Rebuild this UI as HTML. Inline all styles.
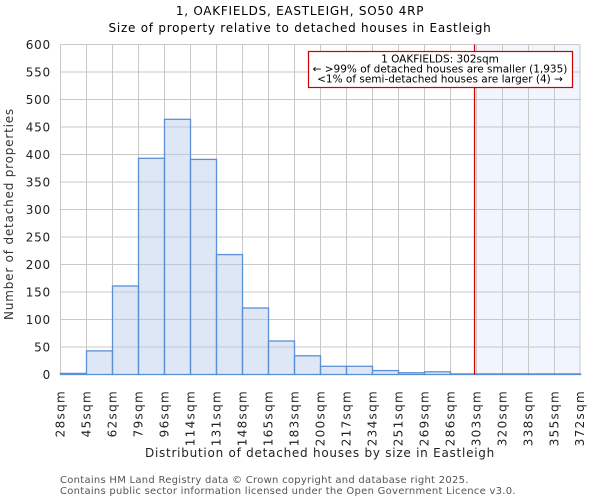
<!DOCTYPE html>
<html><head><meta charset="utf-8"><style>body{margin:0;background:#fff}svg{display:block}</style></head><body>
<svg width="600" height="500" xmlns="http://www.w3.org/2000/svg" font-family="DejaVu Sans, Liberation Sans, sans-serif">
<rect width="600" height="500" fill="#fff"/>
<text x="300" y="15" text-anchor="middle" font-size="12" letter-spacing="0.75">1, OAKFIELDS, EASTLEIGH, SO50 4RP</text>
<text x="300" y="32" text-anchor="middle" font-size="12" letter-spacing="0.75">Size of property relative to detached houses in Eastleigh</text>
<rect x="474.5" y="44.5" width="105.5" height="330" fill="#eef3fc" opacity="0.8"/>
<g stroke="#c8c8c8" stroke-width="1">
<line x1="60.5" x2="580" y1="44.5" y2="44.5"/><line x1="60.5" x2="580" y1="72" y2="72"/><line x1="60.5" x2="580" y1="99.5" y2="99.5"/><line x1="60.5" x2="580" y1="127" y2="127"/><line x1="60.5" x2="580" y1="154.5" y2="154.5"/><line x1="60.5" x2="580" y1="182" y2="182"/><line x1="60.5" x2="580" y1="209.5" y2="209.5"/><line x1="60.5" x2="580" y1="237" y2="237"/><line x1="60.5" x2="580" y1="264.5" y2="264.5"/><line x1="60.5" x2="580" y1="292" y2="292"/><line x1="60.5" x2="580" y1="319.5" y2="319.5"/><line x1="60.5" x2="580" y1="347" y2="347"/><line x1="60.5" x2="580" y1="374.5" y2="374.5"/>
<line y1="44.5" y2="374.5" x1="60.5" x2="60.5"/><line y1="44.5" y2="374.5" x1="86.5" x2="86.5"/><line y1="44.5" y2="374.5" x1="112.5" x2="112.5"/><line y1="44.5" y2="374.5" x1="138.5" x2="138.5"/><line y1="44.5" y2="374.5" x1="164.5" x2="164.5"/><line y1="44.5" y2="374.5" x1="190.5" x2="190.5"/><line y1="44.5" y2="374.5" x1="216.5" x2="216.5"/><line y1="44.5" y2="374.5" x1="242.5" x2="242.5"/><line y1="44.5" y2="374.5" x1="268.5" x2="268.5"/><line y1="44.5" y2="374.5" x1="294.5" x2="294.5"/><line y1="44.5" y2="374.5" x1="320.5" x2="320.5"/><line y1="44.5" y2="374.5" x1="346.5" x2="346.5"/><line y1="44.5" y2="374.5" x1="372.5" x2="372.5"/><line y1="44.5" y2="374.5" x1="398.5" x2="398.5"/><line y1="44.5" y2="374.5" x1="424.5" x2="424.5"/><line y1="44.5" y2="374.5" x1="450.5" x2="450.5"/><line y1="44.5" y2="374.5" x1="476.5" x2="476.5"/><line y1="44.5" y2="374.5" x1="502.5" x2="502.5"/><line y1="44.5" y2="374.5" x1="528.5" x2="528.5"/><line y1="44.5" y2="374.5" x1="554.5" x2="554.5"/><line y1="44.5" y2="374.5" x1="580" x2="580"/>
</g>
<g fill="rgb(180,202,235)" fill-opacity="0.45" stroke="#5b8fd6" stroke-width="1.3">
<rect x="60.5" y="373.4" width="26" height="1.1"/>
<rect x="86.5" y="350.9" width="26" height="23.6"/>
<rect x="112.5" y="286" width="26" height="88.5"/>
<rect x="138.5" y="158.3" width="26" height="216.2"/>
<rect x="164.5" y="119.3" width="26" height="255.2"/>
<rect x="190.5" y="159.4" width="26" height="215.1"/>
<rect x="216.5" y="254.6" width="26" height="119.9"/>
<rect x="242.5" y="308" width="26" height="66.5"/>
<rect x="268.5" y="341" width="26" height="33.5"/>
<rect x="294.5" y="355.8" width="26" height="18.7"/>
<rect x="320.5" y="366.3" width="26" height="8.2"/>
<rect x="346.5" y="366.3" width="26" height="8.2"/>
<rect x="372.5" y="370.6" width="26" height="3.9"/>
<rect x="398.5" y="372.8" width="26" height="1.7"/>
<rect x="424.5" y="371.8" width="26" height="2.7"/>
<rect x="450.5" y="373.9" width="26" height="0.6"/>
<rect x="476.5" y="373.9" width="26" height="0.6"/>
<rect x="502.5" y="373.9" width="26" height="0.6"/>
<rect x="528.5" y="373.9" width="26" height="0.6"/>
<rect x="554.5" y="373.9" width="26" height="0.6"/>
</g>
<line x1="474.5" x2="474.5" y1="44.5" y2="374.5" stroke="#cc0000" stroke-width="1.2"/>
<rect x="308.5" y="51.5" width="264" height="36" fill="#fff" stroke="#cc0000" stroke-width="1.2"/>
<g font-size="10.5" text-anchor="middle"><text x="440" y="62.5">1 OAKFIELDS: 302sqm</text><text x="440" y="72.5">← &gt;99% of detached houses are smaller (1,935)</text><text x="440" y="82.5">&lt;1% of semi-detached houses are larger (4) →</text></g>
<g font-size="12" text-anchor="end" fill="#222" letter-spacing="0.8">
<text x="51" y="49">600</text><text x="51" y="76.5">550</text><text x="51" y="104">500</text><text x="51" y="131.5">450</text><text x="51" y="159">400</text><text x="51" y="186.5">350</text><text x="51" y="214">300</text><text x="51" y="241.5">250</text><text x="51" y="269">200</text><text x="51" y="296.5">150</text><text x="51" y="324">100</text><text x="51" y="351.5">50</text><text x="51" y="379">0</text>
</g>
<text transform="translate(13,214) rotate(-90)" text-anchor="middle" font-size="12" fill="#333" letter-spacing="0.8">Number of detached properties</text>
<g font-size="12" text-anchor="end" fill="#222" letter-spacing="1.3">
<text transform="translate(64.5,390) rotate(-90)">28sqm</text>
<text transform="translate(90.5,390) rotate(-90)">45sqm</text>
<text transform="translate(116.5,390) rotate(-90)">62sqm</text>
<text transform="translate(142.5,390) rotate(-90)">79sqm</text>
<text transform="translate(168.5,390) rotate(-90)">96sqm</text>
<text transform="translate(194.5,390) rotate(-90)">114sqm</text>
<text transform="translate(220.5,390) rotate(-90)">131sqm</text>
<text transform="translate(246.5,390) rotate(-90)">148sqm</text>
<text transform="translate(272.5,390) rotate(-90)">165sqm</text>
<text transform="translate(298.5,390) rotate(-90)">183sqm</text>
<text transform="translate(324.5,390) rotate(-90)">200sqm</text>
<text transform="translate(350.5,390) rotate(-90)">217sqm</text>
<text transform="translate(376.5,390) rotate(-90)">234sqm</text>
<text transform="translate(402.5,390) rotate(-90)">251sqm</text>
<text transform="translate(428.5,390) rotate(-90)">269sqm</text>
<text transform="translate(454.5,390) rotate(-90)">286sqm</text>
<text transform="translate(480.5,390) rotate(-90)">303sqm</text>
<text transform="translate(506.5,390) rotate(-90)">320sqm</text>
<text transform="translate(532.5,390) rotate(-90)">338sqm</text>
<text transform="translate(558.5,390) rotate(-90)">355sqm</text>
<text transform="translate(584,390) rotate(-90)">372sqm</text>
</g>
<text x="320" y="457" text-anchor="middle" font-size="12" fill="#222" letter-spacing="0.75">Distribution of detached houses by size in Eastleigh</text>
<g font-size="10" fill="#555" letter-spacing="0.27"><text x="60" y="483">Contains HM Land Registry data © Crown copyright and database right 2025.</text><text x="60" y="494">Contains public sector information licensed under the Open Government Licence v3.0.</text></g>
</svg>
</body></html>
